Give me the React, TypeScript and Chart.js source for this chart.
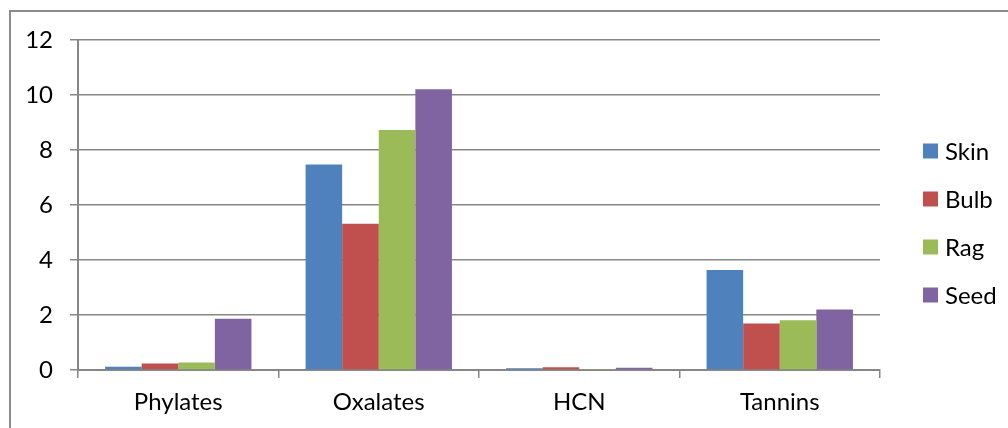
import React, { useEffect, useRef } from 'react';
import { Chart, registerables } from 'chart.js';

Chart.register(...registerables);

// Categories and series
const categories = ['Phylates', 'Oxalates', 'HCN', 'Tannins'];
const seriesNames = ['Skin', 'Bulb', 'Rag', 'Seed'];
const skinValues = [0.12, 7.47, 0.06, 3.64];
const bulbValues = [0.24, 5.32, 0.1, 1.69];
const ragValues = [0.27, 8.73, 0.04, 1.81];
const seedValues = [1.86, 10.21, 0.08, 2.2];
const yTicks = [0, 2, 4, 6, 8, 10, 12];

const FONT = 'Lato, "Open Sans", sans-serif';
const FONT_SIZE = 24;
const GRID = '#878787';

// Excel-style legend on the right, drawn after the chart
const sideLegend = {
  id: 'sideLegend',
  afterDraw(chart: Chart) {
    const ctx = chart.ctx;
    const area = chart.chartArea;
    const boxX = area.right + 43;
    const startY = 151;
    const step = 48;
    ctx.save();
    ctx.font = `${FONT_SIZE}px ${FONT}`;
    ctx.textBaseline = 'middle';
    ctx.textAlign = 'left';
    chart.data.datasets.forEach((ds, i) => {
      const cy = startY + i * step;
      ctx.fillStyle = ds.backgroundColor as string;
      ctx.fillRect(boxX, cy - 7.5, 15, 15);
      ctx.fillStyle = '#000';
      ctx.fillText(ds.label || '', boxX + 22, cy + 1);
    });
    ctx.restore();
  },
};

const App: React.FC = () => {
  const chartRef = useRef<HTMLCanvasElement | null>(null);
  const chartInstance = useRef<Chart | null>(null);

  useEffect(() => {
    if (!chartRef.current) return;
    const ctx = chartRef.current.getContext('2d');
    if (!ctx) return;

    const values = [skinValues, bulbValues, ragValues, seedValues];
    const colors = ['#4f81bd', '#c0504d', '#9bbb59', '#8064a2'];

    chartInstance.current = new Chart(ctx, {
      type: 'bar',
      data: {
        labels: categories,
        datasets: seriesNames.map((name, i) => ({
          label: name,
          data: values[i],
          backgroundColor: colors[i],
          borderWidth: 0,
          barPercentage: 1,
          categoryPercentage: 0.73,
        })),
      },
      options: {
        responsive: true,
        maintainAspectRatio: false,
        animation: false,
        layout: {
          padding: { left: 12, top: 40, right: 128, bottom: 0 },
        },
        plugins: {
          legend: { display: false },
          tooltip: { enabled: false },
        },
        scales: {
          x: {
            grid: {
              display: true,
              drawOnChartArea: false,
              drawTicks: true,
              tickLength: 8,
              color: GRID,
              lineWidth: 1.5,
            },
            border: { display: true, color: GRID, width: 2 },
            ticks: {
              color: '#000',
              padding: 10,
              font: { family: FONT, size: FONT_SIZE },
            },
            afterFit: (scale: any) => {
              scale.height = 58;
            },
          },
          y: {
            min: 0,
            max: 12,
            afterBuildTicks: (scale: any) => {
              scale.ticks = yTicks.map(v => ({ value: v }));
            },
            grid: {
              color: GRID,
              lineWidth: 1.5,
              drawTicks: true,
              tickLength: 8,
            },
            border: { display: true, color: GRID, width: 2 },
            ticks: {
              color: '#000',
              padding: 17,
              font: { family: FONT, size: FONT_SIZE },
            },
            afterFit: (scale: any) => {
              scale.width = 66;
            },
          },
        },
      },
      plugins: [sideLegend],
    });

    return () => {
      if (chartInstance.current) {
        chartInstance.current.destroy();
        chartInstance.current = null;
      }
    };
  }, []);

  return (
    <div
      style={{
        position: 'absolute',
        left: 0,
        top: 0,
        width: 1008,
        height: 428,
        overflow: 'hidden',
        background: '#fff',
      }}
    >
      <div
        style={{
          position: 'absolute',
          left: 9,
          top: 10,
          width: 1100,
          height: 500,
          border: '2px solid #8c8c8c',
        }}
      />
      <div style={{ position: 'absolute', left: 0, top: 0, width: 1008, height: 428 }}>
        <canvas ref={chartRef} />
      </div>
    </div>
  );
};

export default App;
